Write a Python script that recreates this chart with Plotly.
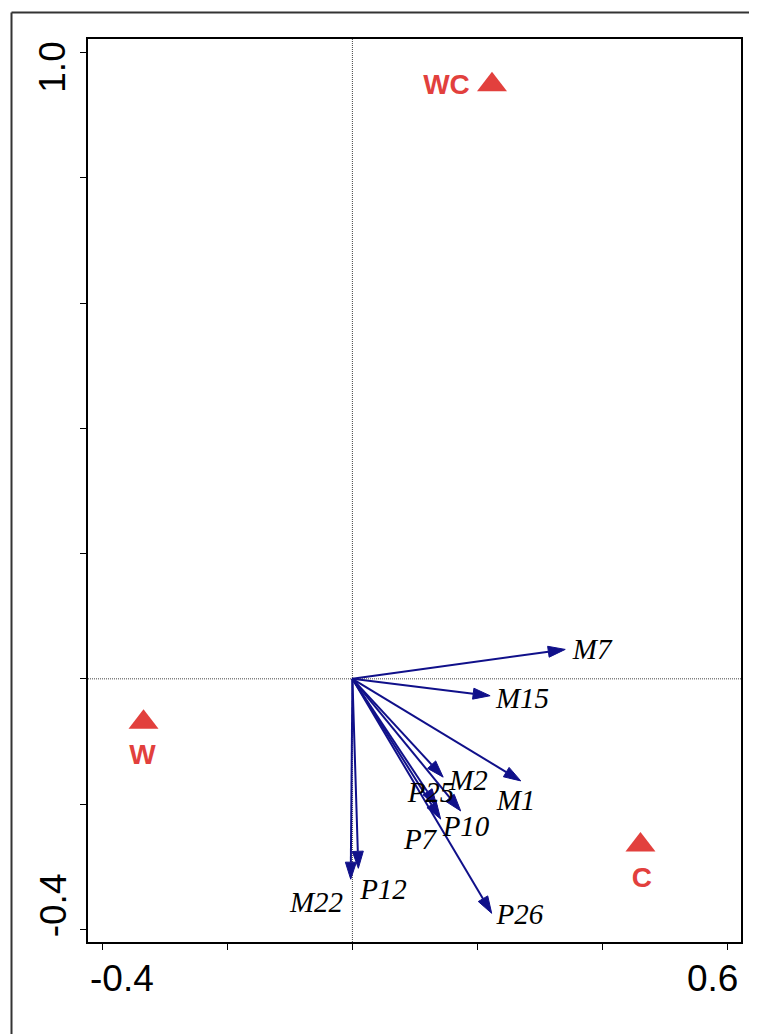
import numpy as np
import plotly.graph_objects as go

# ---- data ----
species = ["M7", "M15", "M1", "M2", "P25", "P10", "P7", "P26", "P12", "M22"]
arrow_x = [0.340, 0.220, 0.269, 0.145, 0.135, 0.173, 0.141, 0.2225, 0.0095, -0.0027]
arrow_y = [0.047, -0.027, -0.163, -0.157, -0.203, -0.211, -0.224, -0.3745, -0.3026, -0.320]
label_x = [0.383, 0.2717, 0.2613, 0.1855, 0.1256, 0.1815, 0.108, 0.2677, 0.0497, -0.0573]
label_y = [0.043, -0.0353, -0.1982, -0.1663, -0.1855, -0.2398, -0.2604, -0.3804, -0.3403, -0.3607]

sites = ["WC", "W", "C"]
site_x = [0.223, -0.3337, 0.4602]
site_y = [0.9487, -0.0693, -0.2653]
site_label_x = [0.1503, -0.3353, 0.4626]
site_label_y = [0.946, -0.1249, -0.3207]

x_ticks = [-0.4, -0.2, 0.0, 0.2, 0.4, 0.6]
y_ticks = [-0.4, -0.2, 0.0, 0.2, 0.4, 0.6, 0.8, 1.0]

ARROW = "#10108a"
RED = "#e2403d"
X_RANGE = [-0.4224, 0.6208]
Y_RANGE = [-0.4203, 1.0219]

# page body has an 8px margin; figure sized so it fits the window
FIG_W, FIG_H = 749, 1026
ML, MT = 80, 31
PW, PH = 653, 903

fig = go.Figure()

# arrows: shafts + filled heads (axes have equal scale)
head_len = 17 / 626.0
head_half = 5.5 / 626.0
for sx, sy in zip(arrow_x, arrow_y):
    d = np.hypot(sx, sy)
    ux, uy = sx / d, sy / d
    bx, by = sx - ux * head_len, sy - uy * head_len
    px, py = -uy, ux
    fig.add_trace(go.Scatter(x=[0, bx], y=[0, by], mode="lines",
                             line=dict(color=ARROW, width=2),
                             hoverinfo="skip", showlegend=False))
    fig.add_trace(go.Scatter(
        x=[sx, bx + px * head_half, bx - px * head_half, sx],
        y=[sy, by + py * head_half, by - py * head_half, sy],
        mode="lines", fill="toself", fillcolor=ARROW,
        line=dict(color=ARROW, width=1), hoverinfo="skip", showlegend=False))

# species labels
fig.add_trace(go.Scatter(
    x=label_x, y=label_y, mode="text",
    text=["<i>%s</i>" % s for s in species],
    textposition="middle center",
    textfont=dict(family="Liberation Serif", size=29, color="black"),
    hoverinfo="skip", showlegend=False))

# site points
fig.add_trace(go.Scatter(
    x=site_x, y=site_y, mode="markers",
    marker=dict(symbol="triangle-up", size=26, color=RED, line=dict(width=0)),
    hoverinfo="skip", showlegend=False))
fig.add_trace(go.Scatter(
    x=site_label_x, y=site_label_y, mode="text",
    text=["<b>%s</b>" % s for s in sites],
    textposition="middle center",
    textfont=dict(family="Liberation Sans", size=28, color=RED),
    hoverinfo="skip", showlegend=False))

frame_x = (3.5 - ML) / PW
frame_top = (MT + PH - 4.5) / PH
shapes = [
    # dotted zero lines
    dict(type="line", xref="x", yref="paper", x0=0, x1=0, y0=0, y1=1,
         line=dict(color="#444444", width=1, dash="1px,1px"), layer="below"),
    dict(type="line", xref="paper", yref="y", x0=0, x1=1, y0=0, y1=0,
         line=dict(color="#444444", width=1, dash="1px,1px"), layer="below"),
    # outer frame (top and left edges)
    dict(type="line", xref="paper", yref="paper",
         x0=frame_x, x1=(FIG_W + 10 - ML) / PW, y0=frame_top, y1=frame_top,
         line=dict(color="#333333", width=2)),
    dict(type="line", xref="paper", yref="paper",
         x0=frame_x, x1=frame_x, y0=frame_top, y1=(MT + PH - FIG_H - 10) / PH,
         line=dict(color="#333333", width=2)),
]

annotations = [
    dict(text="-0.4", x=-0.4, xref="x", y=0, yref="paper", showarrow=False,
         xanchor="center", yanchor="middle", xshift=20, yshift=-36,
         font=dict(family="Liberation Sans", size=37, color="black")),
    dict(text="0.6", x=0.6, xref="x", y=0, yref="paper", showarrow=False,
         xanchor="center", yanchor="middle", xshift=-15, yshift=-36,
         font=dict(family="Liberation Sans", size=37, color="black")),
    dict(text="1.0", x=0, xref="paper", y=1.0, yref="y", showarrow=False,
         xanchor="center", yanchor="middle", xshift=-35, yshift=-15, textangle=-90,
         font=dict(family="Liberation Sans", size=37, color="black")),
    dict(text="-0.4", x=0, xref="paper", y=-0.4, yref="y", showarrow=False,
         xanchor="center", yanchor="middle", xshift=-35, yshift=24, textangle=-90,
         font=dict(family="Liberation Sans", size=37, color="black")),
]

fig.update_layout(
    width=FIG_W, height=FIG_H,
    margin=dict(l=ML, r=FIG_W - ML - PW, t=MT, b=FIG_H - MT - PH, pad=0),
    paper_bgcolor="white", plot_bgcolor="white",
    showlegend=False,
    shapes=shapes, annotations=annotations,
    xaxis=dict(range=X_RANGE, showgrid=False, zeroline=False,
               showline=True, linecolor="black", linewidth=1.5, mirror=True,
               ticks="outside", ticklen=6, tickwidth=1.2, tickcolor="black",
               tickvals=x_ticks, showticklabels=False, fixedrange=True),
    yaxis=dict(range=Y_RANGE, showgrid=False, zeroline=False,
               showline=True, linecolor="black", linewidth=1.5, mirror=True,
               ticks="outside", ticklen=6, tickwidth=1.2, tickcolor="black",
               tickvals=y_ticks, showticklabels=False, fixedrange=True),
)

fig.write_html("out.html")
